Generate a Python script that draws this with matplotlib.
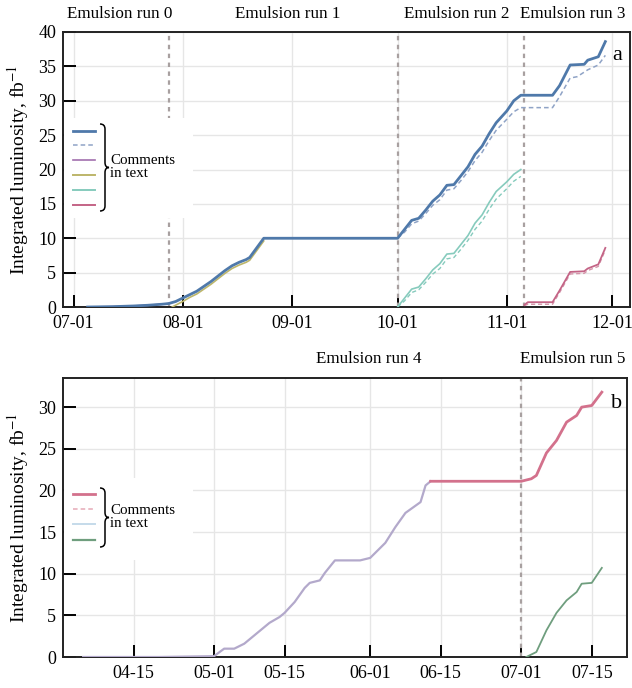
import matplotlib
matplotlib.use("Agg")
import matplotlib.pyplot as plt
import matplotlib.dates as mdates
from matplotlib.lines import Line2D
from matplotlib.patches import Rectangle, PathPatch
from matplotlib.path import Path
import numpy as np

plt.rcParams['font.family'] = ['Liberation Serif', 'DejaVu Serif']
plt.rcParams['mathtext.fontset'] = 'stix'

# ---------------- Panel a data (2022) ----------------
a_total_dates = ["2022-07-05", "2022-07-12", "2022-07-18", "2022-07-22", "2022-07-26", "2022-07-28",
                 "2022-07-30", "2022-08-01", "2022-08-03", "2022-08-05", "2022-08-07", "2022-08-09",
                 "2022-08-11", "2022-08-13", "2022-08-15", "2022-08-17", "2022-08-19", "2022-08-20",
                 "2022-08-22", "2022-08-24", "2022-10-01", "2022-10-03", "2022-10-05", "2022-10-07",
                 "2022-10-09", "2022-10-11", "2022-10-13", "2022-10-15", "2022-10-17", "2022-10-19",
                 "2022-10-21", "2022-10-23", "2022-10-25", "2022-10-27", "2022-10-29", "2022-11-01",
                 "2022-11-03", "2022-11-05", "2022-11-14", "2022-11-16", "2022-11-19", "2022-11-23",
                 "2022-11-24", "2022-11-27", "2022-11-29"]
a_total_vals = [0.0, 0.05, 0.15, 0.25, 0.4, 0.5,
                0.8, 1.3, 1.8, 2.3, 3.0, 3.7,
                4.5, 5.3, 6.0, 6.5, 6.9, 7.2,
                8.6, 10.0, 10.0, 11.3, 12.6, 12.9,
                14.1, 15.4, 16.3, 17.7, 17.8, 19.1,
                20.4, 22.2, 23.4, 25.2, 26.8, 28.5,
                30.0, 30.8, 30.8, 32.2, 35.2, 35.3,
                35.9, 36.4, 38.6]

a_dashed_dates = ["2022-10-01", "2022-10-03", "2022-10-05", "2022-10-07", "2022-10-09", "2022-10-11",
                  "2022-10-13", "2022-10-15", "2022-10-17", "2022-10-19", "2022-10-21", "2022-10-23",
                  "2022-10-25", "2022-10-27", "2022-10-29", "2022-11-01", "2022-11-03", "2022-11-05",
                  "2022-11-14", "2022-11-16", "2022-11-19", "2022-11-21", "2022-11-24", "2022-11-27",
                  "2022-11-29"]
a_dashed_vals = [10.0, 10.9, 12.1, 12.5, 13.6, 14.8,
                 15.6, 17.0, 17.2, 18.4, 19.7, 21.3,
                 22.5, 24.2, 25.7, 27.3, 28.4, 29.0,
                 29.0, 30.6, 33.3, 33.5, 34.5, 35.2, 36.6]

a_run0_dates = ["2022-07-05", "2022-07-12", "2022-07-18", "2022-07-22", "2022-07-26", "2022-07-28"]
a_run0_vals = [0.0, 0.05, 0.15, 0.25, 0.4, 0.5]

a_run1_dates = ["2022-07-29", "2022-08-01", "2022-08-03", "2022-08-05", "2022-08-07", "2022-08-09",
                "2022-08-11", "2022-08-13", "2022-08-15", "2022-08-17", "2022-08-19", "2022-08-20",
                "2022-08-22", "2022-08-24"]
a_run1_vals = [0.0, 0.8, 1.4, 1.9, 2.6, 3.3,
               4.1, 4.9, 5.6, 6.1, 6.5, 6.8,
               8.2, 9.6]

a_run2_dates = ["2022-10-01", "2022-10-03", "2022-10-05", "2022-10-07", "2022-10-09", "2022-10-11",
                "2022-10-13", "2022-10-15", "2022-10-17", "2022-10-19", "2022-10-21", "2022-10-23",
                "2022-10-25", "2022-10-27", "2022-10-29", "2022-11-01", "2022-11-03", "2022-11-05"]
a_run2_vals = [0.0, 1.3, 2.6, 2.9, 4.1, 5.4,
               6.3, 7.7, 7.8, 9.1, 10.4, 12.2,
               13.4, 15.2, 16.8, 18.2, 19.3, 20.0]
a_run2d_vals = [0.0, 0.9, 2.1, 2.5, 3.6, 4.8,
                5.6, 7.0, 7.2, 8.4, 9.7, 11.3,
                12.5, 14.2, 15.7, 17.2, 18.3, 19.0]

a_run3_dates = ["2022-11-06", "2022-11-07", "2022-11-14", "2022-11-16", "2022-11-19", "2022-11-23",
                "2022-11-24", "2022-11-27", "2022-11-29"]
a_run3_vals = [0.3, 0.7, 0.7, 2.4, 5.1, 5.2, 5.6, 6.2, 8.6]
a_run3d_vals = [0.2, 0.4, 0.4, 2.1, 4.8, 4.9, 5.3, 5.9, 8.3]

a_ticks = ["2022-07-01", "2022-08-01", "2022-09-01", "2022-10-01", "2022-11-01", "2022-12-01"]
a_vlines = ["2022-07-28", "2022-10-01", "2022-11-06"]
a_xlim = ["2022-06-28", "2022-12-06"]

# ---------------- Panel b data (2023) ----------------
b_run4_dates = ["2023-04-05", "2023-04-20", "2023-05-01", "2023-05-03", "2023-05-05", "2023-05-07",
                "2023-05-09", "2023-05-12", "2023-05-14", "2023-05-15", "2023-05-17", "2023-05-19",
                "2023-05-20", "2023-05-22", "2023-05-23", "2023-05-25", "2023-05-30", "2023-06-01",
                "2023-06-04", "2023-06-06", "2023-06-08", "2023-06-11", "2023-06-12", "2023-06-13"]
b_run4_vals = [0.0, 0.0, 0.1, 1.0, 1.0, 1.6,
               2.6, 4.1, 4.8, 5.3, 6.6, 8.3,
               8.9, 9.2, 10.1, 11.6, 11.6, 11.9,
               13.7, 15.6, 17.3, 18.6, 20.6, 21.1]

b_red_dates = ["2023-06-13", "2023-07-01", "2023-07-03", "2023-07-04", "2023-07-06", "2023-07-08",
               "2023-07-10", "2023-07-12", "2023-07-13", "2023-07-15", "2023-07-17"]
b_red_vals = [21.1, 21.1, 21.4, 21.8, 24.5, 26.0, 28.2, 29.0, 30.0, 30.2, 31.8]

b_green_dates = ["2023-07-02", "2023-07-04", "2023-07-06", "2023-07-08", "2023-07-10",
                 "2023-07-12", "2023-07-13", "2023-07-15", "2023-07-17"]
b_green_vals = [0.0, 0.6, 3.2, 5.3, 6.8, 7.8, 8.8, 8.9, 10.7]

b_ticks = ["2023-04-15", "2023-05-01", "2023-05-15", "2023-06-01", "2023-06-15", "2023-07-01", "2023-07-15"]
b_vlines = ["2023-07-01"]
b_xlim = ["2023-04-01", "2023-07-22"]


def d(lst):
    return [np.datetime64(s) for s in lst]


W, H = 632, 688
fig = plt.figure(figsize=(W / 100, H / 100), dpi=100)


def px_ax(l, t, r, b):
    return fig.add_axes([l / W, 1 - b / H, (r - l) / W, (b - t) / H])


axa = px_ax(63, 32, 630, 307)
axb = px_ax(63, 378, 627, 657)

grid_c = '#e6e6e6'
vline_c = '#a8a0a0'


def style(ax, ticks, xlim, ylim, yticks, labx):
    ax.set_xlim(d(xlim))
    ax.set_ylim(*ylim)
    ax.set_xticks(d(ticks))
    ax.xaxis.set_major_formatter(mdates.DateFormatter('%m-%d'))
    ax.set_yticks(yticks)
    ax.grid(True, color=grid_c, lw=1.0, zorder=0)
    ax.set_axisbelow(True)
    ax.tick_params(axis='both', direction='in', labelsize=13, width=1.4, length=9, pad=5)
    ax.tick_params(axis='x', pad=6)
    for s in ax.spines.values():
        s.set_linewidth(1.4)
        s.set_color('#222222')
    ax.set_ylabel(r'Integrated luminosity, fb$^{-1}$', fontsize=14)
    ax.yaxis.set_label_coords(labx, 0.5)


style(axa, a_ticks, a_xlim, (0, 40), np.arange(0, 41, 5), (31 - 63) / 567)
style(axb, b_ticks, b_xlim, (0, 33.5), np.arange(0, 31, 5), (31 - 63) / 564)

for v in a_vlines:
    axa.axvline(np.datetime64(v), color=vline_c, ls=(0, (2, 2)), lw=1.6, zorder=1)
for v in b_vlines:
    axb.axvline(np.datetime64(v), color=vline_c, ls=(0, (2, 2)), lw=1.6, zorder=1)

# panel a colours
c_blue = '#4f79aa'
c_bluedash = '#8fa3c6'
c_purple = '#a26fae'
c_olive = '#bdb66a'
c_teal = '#86cbbd'
c_red = '#c46486'

axa.plot(d(a_run0_dates), a_run0_vals, color=c_purple, lw=1.2, zorder=3)
axa.plot(d(a_run1_dates), a_run1_vals, color=c_olive, lw=1.2, zorder=3)
axa.plot(d(a_run2_dates), a_run2d_vals, color=c_teal, lw=1.0, ls=(0, (3, 2)), zorder=3)
axa.plot(d(a_run2_dates), a_run2_vals, color=c_teal, lw=1.2, zorder=3)
axa.plot(d(a_run3_dates), a_run3d_vals, color='#d496aa', lw=1.0, ls=(0, (3, 2)), zorder=3)
axa.plot(d(a_run3_dates), a_run3_vals, color=c_red, lw=1.3, zorder=3)
axa.plot(d(a_dashed_dates), a_dashed_vals, color=c_bluedash, lw=1.1, ls=(0, (3, 2)), zorder=3)
axa.plot(d(a_total_dates), a_total_vals, color=c_blue, lw=2.0, zorder=4)

# panel b colours
c_bred = '#d3718c'
c_bpink = '#e6a9b7'
c_blight = '#c5dbea'
c_bgreen = '#6f9e7e'
c_lav = '#b3a9cb'

axb.plot(d(b_run4_dates), b_run4_vals, color=c_lav, lw=1.6, zorder=3)
axb.plot(d(b_red_dates), b_red_vals, color=c_bred, lw=2.0, zorder=4)
axb.plot(d(b_green_dates), b_green_vals, color=c_bgreen, lw=1.3, zorder=3)


def legend(ax, l, t, r, b, ys, styles, brace, text_xy):
    inv = ax.transAxes.inverted()

    def tr(x, y):
        return inv.transform(fig.transFigure.transform((x / W, 1 - y / H)))
    p0 = tr(l, b)
    p1 = tr(r, t)
    ax.add_patch(Rectangle(p0, p1[0] - p0[0], p1[1] - p0[1], transform=ax.transAxes,
                           facecolor='white', edgecolor='none', zorder=2))
    for y, (c, lw, ls) in zip(ys, styles):
        q0 = tr(73, y)
        q1 = tr(95, y)
        ax.add_line(Line2D([q0[0], q1[0]], [q0[1], q1[1]], transform=ax.transAxes,
                           color=c, lw=lw, ls=ls, zorder=5))
    bt, bb = brace
    mid = (bt + bb) / 2
    xs, xm, xt = 100, 105, 109
    verts = [(xs, bt), (xm, bt), (xm, bt + 5), (xm, mid - 5), (xm, mid), (xt, mid),
             (xm, mid), (xm, mid + 5), (xm, bb - 5), (xm, bb), (xs, bb)]
    codes = [Path.MOVETO, Path.CURVE3, Path.CURVE3, Path.LINETO, Path.CURVE3, Path.CURVE3,
             Path.CURVE3, Path.CURVE3, Path.LINETO, Path.CURVE3, Path.CURVE3]
    vv = [fig.transFigure.transform((x / W, 1 - y / H)) for x, y in verts]
    fig.patches.append(PathPatch(Path(vv, codes), transform=None, facecolor='none',
                                 edgecolor='black', lw=1.1, zorder=6))
    fig.text(text_xy[0] / W, 1 - text_xy[1] / H, 'Comments\nin text', fontsize=10.8,
             ha='left', va='center', linespacing=0.95)


legend(axa, 64, 118, 193, 218, [131, 145, 160, 175, 190, 205],
       [(c_blue, 2.0, '-'), (c_bluedash, 1.1, (0, (3, 2))), (c_purple, 1.2, '-'),
        (c_olive, 1.4, '-'), (c_teal, 1.4, '-'), (c_red, 1.4, '-')],
       (124, 211), (110, 167))
legend(axb, 64, 478, 193, 560, [494, 509, 524, 540],
       [(c_bred, 2.0, '-'), (c_bpink, 1.1, (0, (3, 2))), (c_blight, 1.4, '-'),
        (c_bgreen, 1.6, '-')],
       (488, 547), (110, 517))

for x, y, s in [(120, 14, 'Emulsion run 0'), (288, 14, 'Emulsion run 1'),
                (457, 14, 'Emulsion run 2'), (573, 14, 'Emulsion run 3'),
                (369, 359, 'Emulsion run 4'), (573, 359, 'Emulsion run 5')]:
    fig.text(x / W, 1 - y / H, s, fontsize=12.3, ha='center', va='center')

fig.text(617 / W, 1 - 55 / H, 'a', fontsize=16, ha='center', va='center')
fig.text(617 / W, 1 - 403 / H, 'b', fontsize=16, ha='center', va='center')

fig.savefig('out.png', dpi=100)
